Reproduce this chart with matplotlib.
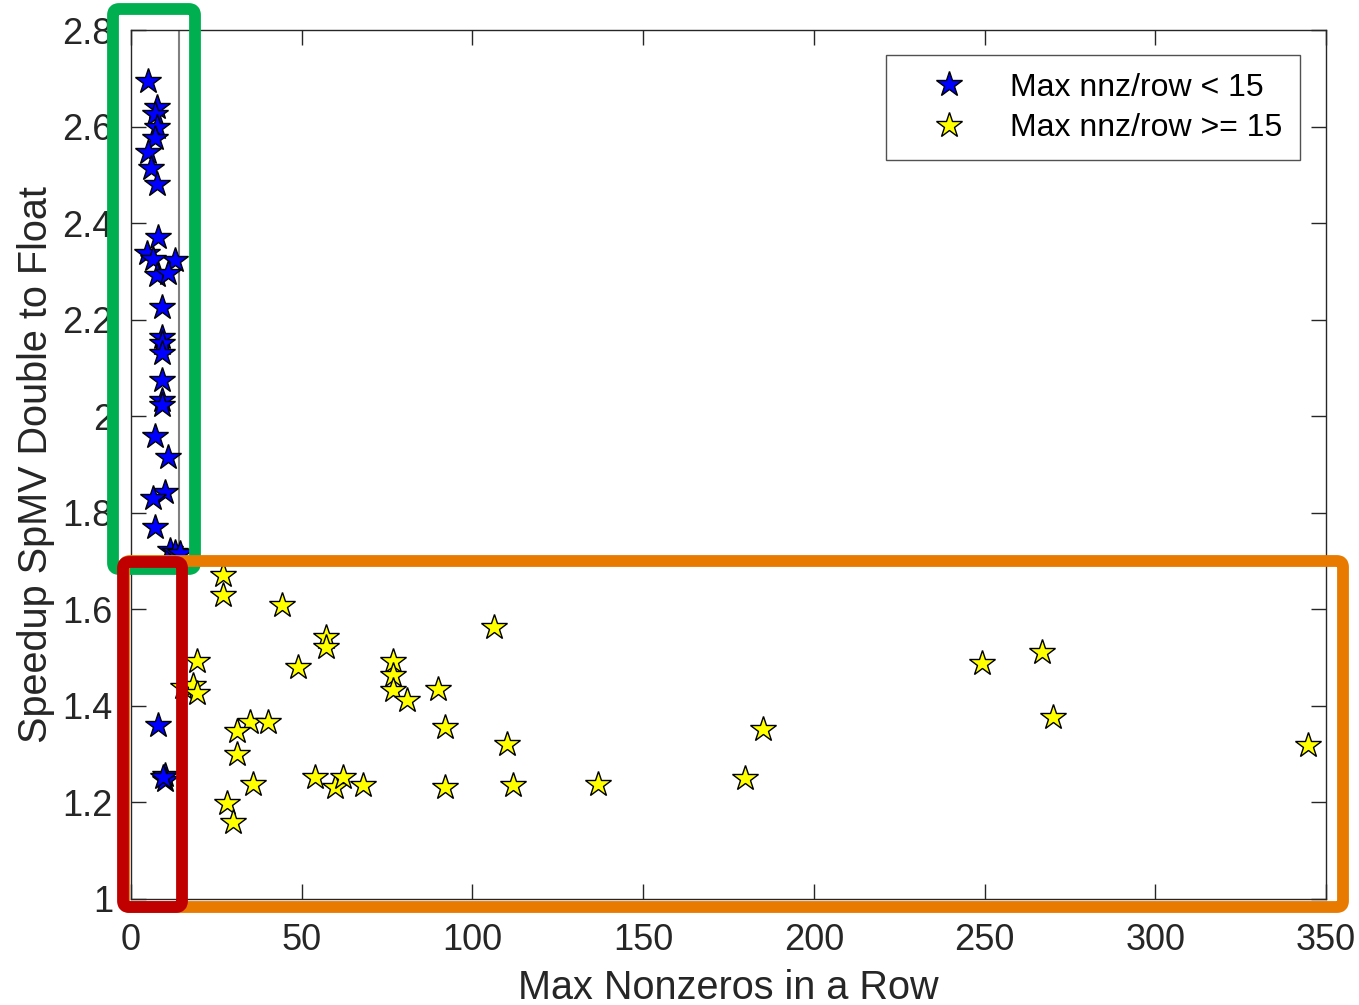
import matplotlib
matplotlib.use("Agg")
import matplotlib.pyplot as plt
from matplotlib.patches import FancyBboxPatch
from matplotlib.transforms import Affine2D

plt.rcParams['font.family'] = ['Liberation Sans', 'DejaVu Sans']

# ---- data ----
blue_x = [5, 7.5, 7, 7.5, 7, 5, 6, 7.5,
          8, 4.6, 12.9, 6.5, 7.5, 10.9, 9, 9,
          9, 9, 9, 9, 9, 7, 10.9,
          10, 6.5, 7, 11.4, 12.9, 14.3,
          8, 10, 10, 9.5]
blue_y = [2.695, 2.64, 2.625, 2.60, 2.576, 2.548, 2.515, 2.482,
          2.372, 2.338, 2.324, 2.326, 2.292, 2.296, 2.227, 2.165,
          2.151, 2.130, 2.075, 2.034, 2.023, 1.958, 1.916,
          1.844, 1.830, 1.771, 1.723, 1.719, 1.716,
          1.360, 1.257, 1.246, 1.252]

yellow_x = [27, 27, 44.1, 19.2, 15.3, 18.2, 19.2, 49, 57.1, 57.1,
            76.8, 76.8, 76.8, 80.7, 90, 92, 34.9, 40.2, 31, 31,
            35.8, 28, 30, 53.9, 59.8, 62.2, 68, 92, 106.2, 110,
            112, 136.9, 185.2, 179.8, 249.2, 266.9, 269.9, 344.8]
yellow_y = [1.671, 1.630, 1.609, 1.492, 1.440, 1.443, 1.426, 1.481, 1.543, 1.522,
            1.492, 1.464, 1.433, 1.412, 1.436, 1.357, 1.367, 1.367, 1.347, 1.300,
            1.239, 1.198, 1.160, 1.253, 1.232, 1.253, 1.236, 1.232, 1.564, 1.322,
            1.236, 1.239, 1.353, 1.250, 1.488, 1.512, 1.377, 1.319]

x_ticks = [0, 50, 100, 150, 200, 250, 300, 350]
y_ticks = [1, 1.2, 1.4, 1.6, 1.8, 2, 2.2, 2.4, 2.6, 2.8]
y_tick_labels = ['1', '1.2', '1.4', '1.6', '1.8', '2', '2.2', '2.4', '2.6', '2.8']
labels = ['Max nnz/row < 15', 'Max nnz/row >= 15']

W, H = 1359, 1005
fig = plt.figure(figsize=(W / 100, H / 100), dpi=100)
ax = fig.add_axes([131 / W, 1 - 899 / H, (1326 - 131) / W, (899 - 30) / H])

ax.axvline(14.1, color='#808080', lw=1.5, zorder=1)

ms = 19
ax.plot(blue_x, blue_y, linestyle='none', marker='*', ms=ms, mfc='#0000ff',
        mec='black', mew=1.0, label=labels[0], zorder=3)
ax.plot(yellow_x, yellow_y, linestyle='none', marker='*', ms=ms, mfc='#ffff00',
        mec='black', mew=1.0, label=labels[1], zorder=3)

ax.set_xlim(0, 350)
ax.set_ylim(1, 2.8)
ax.set_xticks(x_ticks)
ax.set_xticklabels([str(t) for t in x_ticks])
ax.set_yticks(y_ticks)
ax.set_yticklabels(y_tick_labels)
ax.tick_params(direction='in', length=11, width=1.0, top=True, right=True,
               labelsize=26, colors='#262626')
ax.tick_params(axis='x', pad=17)
ax.tick_params(axis='y', pad=13)
for s in ax.spines.values():
    s.set_color('#262626')
    s.set_linewidth(1.0)

ax.set_xlabel('Max Nonzeros in a Row', fontsize=28.5, color='#262626', labelpad=8)
ax.set_ylabel('Speedup SpMV Double to Float', fontsize=28.5, color='#262626', labelpad=5)

leg = ax.legend(loc='upper right', bbox_to_anchor=(1300 / W, 1 - 55 / H),
                bbox_transform=fig.transFigure, fontsize=23, frameon=True,
                fancybox=False, edgecolor='#262626', borderpad=0.55,
                borderaxespad=0, handletextpad=0.45, handlelength=2.9,
                labelspacing=0.32, markerscale=1.0)
leg.get_frame().set_linewidth(1.0)

# ---- highlight boxes (pixel coordinates, y measured from top) ----
pix = Affine2D().scale(1 / W, 1 / H) + fig.transFigure


def box(x0, y0, x1, y1, color):
    p = FancyBboxPatch((x0, H - y1), x1 - x0, y1 - y0,
                       boxstyle='round,pad=0,rounding_size=6',
                       transform=pix, fill=False, edgecolor=color,
                       linewidth=8.5, joinstyle='round', zorder=10,
                       clip_on=False)
    fig.add_artist(p)


box(113, 9, 195, 569, '#00b050')
box(124, 561, 1343, 907, '#e87a00')
box(123, 562, 182, 907, '#c00000')

fig.savefig('out.png', dpi=100)
